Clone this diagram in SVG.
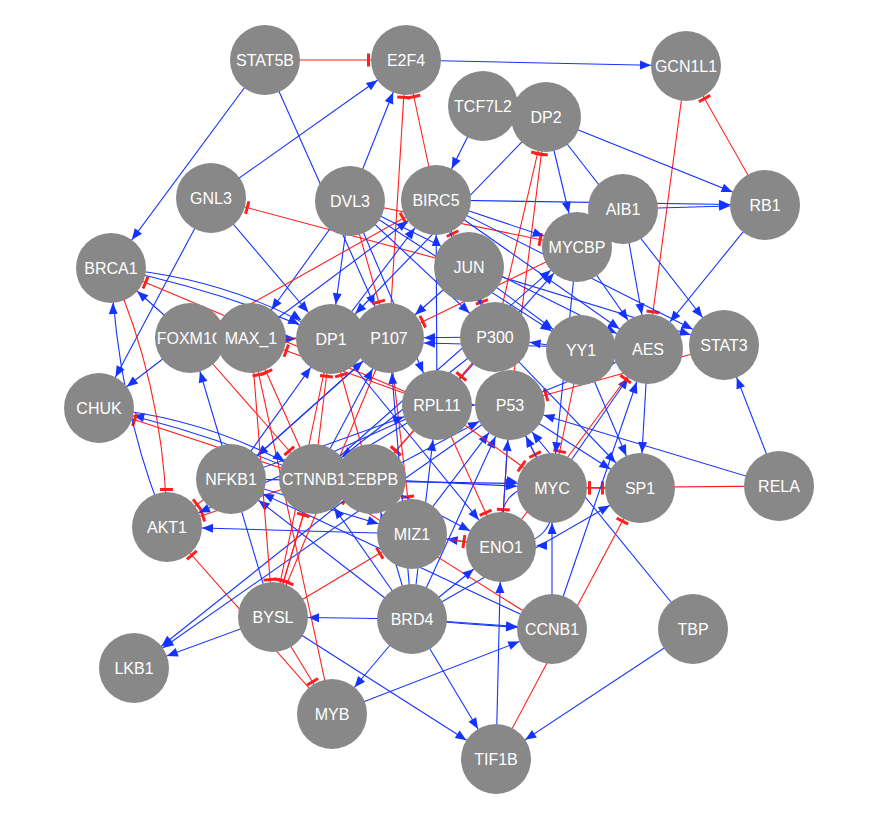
<svg xmlns="http://www.w3.org/2000/svg" width="873" height="813" viewBox="0 0 873 813">
<style>
marker{overflow:visible}
.e line,.e path{fill:none;stroke-width:1.1}
.a{stroke:#1533ff;marker-end:url(#ar)}
.i{stroke:#ff1f1f;marker-end:url(#br)}
.n circle{fill:#888888}
.n text{fill:#ffffff;font-family:"Liberation Sans",Arial,sans-serif;font-size:16px;text-anchor:middle}
</style>
<defs>
<marker id="ar" markerUnits="userSpaceOnUse" orient="auto" markerWidth="10" markerHeight="10" refX="0" refY="0" overflow="visible"><path d="M-35,0 L-46,-4.5 L-46,4.5 Z" fill="#1533ff"/></marker>
<marker id="br" markerUnits="userSpaceOnUse" orient="auto" markerWidth="10" markerHeight="10" refX="0" refY="0" overflow="visible"><path d="M-37.5,-6.5 V6.5" stroke="#ff1f1f" stroke-width="3" fill="none"/></marker>
</defs>
<rect width="873" height="813" fill="#ffffff"/>
<g id="edges" class="e">
<line class="a" x1="265" y1="60" x2="111" y2="268"/>
<line class="a" x1="265" y1="60" x2="389" y2="338"/>
<line class="i" x1="265" y1="60" x2="406" y2="60"/>
<line class="a" x1="406" y1="60" x2="686" y2="66"/>
<line class="a" x1="211" y1="198" x2="406" y2="60"/>
<line class="a" x1="350" y1="201" x2="406" y2="60"/>
<line class="i" x1="389" y1="338" x2="406" y2="60"/>
<line class="i" x1="436" y1="200" x2="406" y2="60"/>
<line class="a" x1="483" y1="106" x2="436" y2="200"/>
<line class="i" x1="469" y1="267" x2="211" y2="198"/>
<line class="a" x1="211" y1="198" x2="331" y2="339"/>
<line class="a" x1="211" y1="198" x2="99" y2="408"/>
<line class="i" x1="765" y1="205" x2="686" y2="66"/>
<line class="i" x1="686" y1="66" x2="648" y2="349"/>
<line class="a" x1="546" y1="117" x2="765" y2="205"/>
<line class="a" x1="623" y1="209" x2="765" y2="205"/>
<line class="a" x1="436" y1="200" x2="765" y2="205"/>
<line class="a" x1="546" y1="117" x2="577" y2="247"/>
<line class="a" x1="546" y1="117" x2="724" y2="345"/>
<line class="i" x1="495" y1="337" x2="546" y2="117"/>
<line class="i" x1="510" y1="405" x2="546" y2="117"/>
<line class="a" x1="546" y1="117" x2="331" y2="339"/>
<line class="i" x1="350" y1="201" x2="577" y2="247"/>
<line class="a" x1="436" y1="200" x2="577" y2="247"/>
<line class="a" x1="765" y1="205" x2="648" y2="349"/>
<line class="a" x1="623" y1="209" x2="648" y2="349"/>
<line class="a" x1="577" y1="247" x2="648" y2="349"/>
<line class="a" x1="469" y1="267" x2="724" y2="345"/>
<line class="a" x1="436" y1="200" x2="724" y2="345"/>
<line class="i" x1="724" y1="345" x2="510" y2="405"/>
<line class="a" x1="779" y1="486" x2="724" y2="345"/>
<line class="i" x1="779" y1="486" x2="552" y2="488"/>
<line class="i" x1="552" y1="488" x2="640" y2="488"/>
<line class="i" x1="640" y1="488" x2="552" y2="488"/>
<line class="a" x1="779" y1="486" x2="510" y2="405"/>
<line class="a" x1="693" y1="629" x2="510" y2="405"/>
<line class="a" x1="693" y1="629" x2="496" y2="759"/>
<line class="i" x1="496" y1="759" x2="640" y2="488"/>
<line class="a" x1="552" y1="629" x2="648" y2="349"/>
<line class="a" x1="648" y1="349" x2="640" y2="488"/>
<line class="a" x1="495" y1="337" x2="640" y2="488"/>
<line class="a" x1="510" y1="405" x2="640" y2="488"/>
<line class="a" x1="412" y1="619" x2="640" y2="488"/>
<line class="a" x1="552" y1="488" x2="648" y2="349"/>
<line class="a" x1="412" y1="619" x2="552" y2="629"/>
<path class="a" d="M412,619 Q482,626 552,629"/>
<line class="a" x1="412" y1="619" x2="496" y2="759"/>
<line class="a" x1="273" y1="617" x2="496" y2="759"/>
<line class="a" x1="332" y1="714" x2="552" y2="629"/>
<line class="a" x1="496" y1="759" x2="501" y2="547"/>
<line class="i" x1="552" y1="629" x2="314" y2="479"/>
<line class="a" x1="552" y1="629" x2="552" y2="488"/>
<line class="a" x1="412" y1="619" x2="501" y2="547"/>
<line class="i" x1="332" y1="714" x2="167" y2="527"/>
<line class="i" x1="273" y1="617" x2="332" y2="714"/>
<line class="i" x1="273" y1="617" x2="412" y2="534"/>
<line class="a" x1="412" y1="619" x2="273" y2="617"/>
<line class="a" x1="273" y1="617" x2="134" y2="668"/>
<line class="a" x1="371" y1="479" x2="134" y2="668"/>
<line class="a" x1="510" y1="405" x2="134" y2="668"/>
<line class="a" x1="273" y1="617" x2="190" y2="338"/>
<line class="i" x1="332" y1="714" x2="251" y2="338"/>
<line class="a" x1="412" y1="619" x2="332" y2="714"/>
<line class="a" x1="412" y1="619" x2="231" y2="479"/>
<path class="a" d="M99,408 Q215,418 314,479"/>
<path class="a" d="M314,479 Q210,432 99,408"/>
<line class="i" x1="314" y1="479" x2="99" y2="408"/>
<path class="a" d="M167,527 Q118,410 111,268"/>
<path class="i" d="M111,268 Q165,390 167,527"/>
<line class="i" x1="190" y1="338" x2="314" y2="479"/>
<line class="i" x1="231" y1="479" x2="167" y2="527"/>
<line class="i" x1="314" y1="479" x2="167" y2="527"/>
<line class="a" x1="437" y1="405" x2="167" y2="527"/>
<line class="a" x1="412" y1="534" x2="167" y2="527"/>
<line class="a" x1="552" y1="629" x2="231" y2="479"/>
<line class="a" x1="389" y1="338" x2="231" y2="479"/>
<line class="a" x1="412" y1="619" x2="314" y2="479"/>
<line class="i" x1="273" y1="617" x2="314" y2="479"/>
<line class="i" x1="251" y1="338" x2="273" y2="617"/>
<line class="i" x1="389" y1="338" x2="273" y2="617"/>
<line class="i" x1="314" y1="479" x2="273" y2="617"/>
<line class="a" x1="350" y1="201" x2="331" y2="339"/>
<line class="a" x1="350" y1="201" x2="251" y2="338"/>
<line class="i" x1="190" y1="338" x2="436" y2="200"/>
<line class="a" x1="469" y1="267" x2="389" y2="338"/>
<line class="i" x1="350" y1="201" x2="389" y2="338"/>
<line class="a" x1="190" y1="338" x2="331" y2="339"/>
<line class="i" x1="437" y1="405" x2="251" y2="338"/>
<line class="i" x1="437" y1="405" x2="111" y2="268"/>
<path class="a" d="M111,268 Q235,278 331,339"/>
<path class="a" d="M111,268 Q230,292 331,339"/>
<line class="a" x1="190" y1="338" x2="111" y2="268"/>
<line class="a" x1="190" y1="338" x2="99" y2="408"/>
<line class="i" x1="469" y1="267" x2="436" y2="200"/>
<line class="a" x1="437" y1="405" x2="436" y2="200"/>
<line class="a" x1="331" y1="339" x2="436" y2="200"/>
<line class="a" x1="251" y1="338" x2="436" y2="200"/>
<line class="i" x1="469" y1="267" x2="495" y2="337"/>
<line class="a" x1="350" y1="201" x2="495" y2="337"/>
<line class="a" x1="436" y1="200" x2="495" y2="337"/>
<line class="a" x1="495" y1="337" x2="389" y2="338"/>
<line class="a" x1="581" y1="350" x2="495" y2="337"/>
<line class="a" x1="648" y1="349" x2="389" y2="342"/>
<line class="a" x1="469" y1="267" x2="581" y2="350"/>
<line class="a" x1="437" y1="405" x2="577" y2="247"/>
<line class="a" x1="314" y1="479" x2="577" y2="247"/>
<line class="a" x1="436" y1="200" x2="648" y2="349"/>
<line class="a" x1="350" y1="201" x2="648" y2="349"/>
<line class="i" x1="495" y1="337" x2="437" y2="405"/>
<line class="i" x1="510" y1="405" x2="495" y2="337"/>
<line class="a" x1="437" y1="405" x2="510" y2="405"/>
<line class="i" x1="510" y1="405" x2="552" y2="488"/>
<line class="i" x1="581" y1="350" x2="552" y2="488"/>
<line class="a" x1="552" y1="488" x2="510" y2="405"/>
<line class="a" x1="577" y1="247" x2="552" y2="488"/>
<line class="a" x1="581" y1="350" x2="640" y2="488"/>
<line class="i" x1="501" y1="547" x2="648" y2="349"/>
<line class="a" x1="510" y1="405" x2="648" y2="349"/>
<line class="a" x1="371" y1="479" x2="552" y2="488"/>
<line class="a" x1="231" y1="479" x2="552" y2="484"/>
<path class="a" d="M552,488 Q562,545 501,547"/>
<path class="a" d="M501,547 Q492,478 552,488"/>
<line class="i" x1="437" y1="405" x2="501" y2="547"/>
<line class="i" x1="510" y1="405" x2="501" y2="547"/>
<line class="a" x1="501" y1="547" x2="412" y2="534"/>
<line class="i" x1="412" y1="534" x2="501" y2="547"/>
<line class="i" x1="389" y1="338" x2="412" y2="534"/>
<line class="i" x1="495" y1="337" x2="371" y2="479"/>
<line class="a" x1="412" y1="534" x2="510" y2="405"/>
<line class="a" x1="412" y1="619" x2="510" y2="405"/>
<line class="a" x1="501" y1="547" x2="510" y2="405"/>
<line class="a" x1="231" y1="479" x2="412" y2="534"/>
<line class="a" x1="371" y1="479" x2="501" y2="547"/>
<line class="a" x1="331" y1="339" x2="501" y2="547"/>
<line class="a" x1="231" y1="479" x2="331" y2="339"/>
<line class="a" x1="231" y1="479" x2="389" y2="338"/>
<line class="i" x1="314" y1="479" x2="331" y2="339"/>
<line class="i" x1="371" y1="479" x2="331" y2="339"/>
<line class="i" x1="437" y1="405" x2="371" y2="479"/>
<line class="i" x1="314" y1="479" x2="251" y2="338"/>
<line class="i" x1="331" y1="339" x2="273" y2="617"/>
<line class="a" x1="350" y1="201" x2="581" y2="350"/>
<line class="a" x1="350" y1="201" x2="437" y2="405"/>
<line class="a" x1="495" y1="337" x2="314" y2="479"/>
<line class="a" x1="437" y1="405" x2="314" y2="479"/>
<line class="a" x1="314" y1="479" x2="389" y2="338"/>
<line class="a" x1="371" y1="479" x2="510" y2="405"/>
<line class="a" x1="231" y1="479" x2="437" y2="405"/>
<line class="a" x1="412" y1="619" x2="437" y2="405"/>
<line class="a" x1="412" y1="619" x2="389" y2="338"/>
<line class="a" x1="412" y1="619" x2="371" y2="479"/>
<line class="i" x1="577" y1="247" x2="389" y2="338"/>
<line class="i" x1="437" y1="405" x2="552" y2="488"/>
<line class="i" x1="389" y1="338" x2="190" y2="338"/>
</g>
<g id="n-STAT5B" class="n"><circle cx="265" cy="60" r="35"/><text x="265" y="65.5">STAT5B</text></g>
<g id="n-E2F4" class="n"><circle cx="406" cy="60" r="35"/><text x="406" y="65.5">E2F4</text></g>
<g id="n-GCN1L1" class="n"><circle cx="686" cy="66" r="35"/><text x="686" y="71.5">GCN1L1</text></g>
<g id="n-TCF7L2" class="n"><circle cx="483" cy="106" r="35"/><text x="483" y="111.5">TCF7L2</text></g>
<g id="n-DP2" class="n"><circle cx="546" cy="117" r="35"/><text x="546" y="122.5">DP2</text></g>
<g id="n-GNL3" class="n"><circle cx="211" cy="198" r="35"/><text x="211" y="203.5">GNL3</text></g>
<g id="n-DVL3" class="n"><circle cx="350" cy="201" r="35"/><text x="350" y="206.5">DVL3</text></g>
<g id="n-BIRC5" class="n"><circle cx="436" cy="200" r="35"/><text x="436" y="205.5">BIRC5</text></g>
<g id="n-AIB1" class="n"><circle cx="623" cy="209" r="35"/><text x="623" y="214.5">AIB1</text></g>
<g id="n-RB1" class="n"><circle cx="765" cy="205" r="35"/><text x="765" y="210.5">RB1</text></g>
<g id="n-MYCBP" class="n"><circle cx="577" cy="247" r="35"/><text x="577" y="252.5">MYCBP</text></g>
<g id="n-BRCA1" class="n"><circle cx="111" cy="268" r="35"/><text x="111" y="273.5">BRCA1</text></g>
<g id="n-JUN" class="n"><circle cx="469" cy="267" r="35"/><text x="469" y="272.5">JUN</text></g>
<g id="n-FOXM1C" class="n"><circle cx="190" cy="338" r="35"/><text x="190" y="343.5">FOXM1C</text></g>
<g id="n-MAX_1" class="n"><circle cx="251" cy="338" r="35"/><text x="251" y="343.5">MAX_1</text></g>
<g id="n-DP1" class="n"><circle cx="331" cy="339" r="35"/><text x="331" y="344.5">DP1</text></g>
<g id="n-P107" class="n"><circle cx="389" cy="338" r="35"/><text x="389" y="343.5">P107</text></g>
<g id="n-P300" class="n"><circle cx="495" cy="337" r="35"/><text x="495" y="342.5">P300</text></g>
<g id="n-YY1" class="n"><circle cx="581" cy="350" r="35"/><text x="581" y="355.5">YY1</text></g>
<g id="n-AES" class="n"><circle cx="648" cy="349" r="35"/><text x="648" y="354.5">AES</text></g>
<g id="n-STAT3" class="n"><circle cx="724" cy="345" r="35"/><text x="724" y="350.5">STAT3</text></g>
<g id="n-CHUK" class="n"><circle cx="99" cy="408" r="35"/><text x="99" y="413.5">CHUK</text></g>
<g id="n-RPL11" class="n"><circle cx="437" cy="405" r="35"/><text x="437" y="410.5">RPL11</text></g>
<g id="n-P53" class="n"><circle cx="510" cy="405" r="35"/><text x="510" y="410.5">P53</text></g>
<g id="n-NFKB1" class="n"><circle cx="231" cy="479" r="35"/><text x="231" y="484.5">NFKB1</text></g>
<g id="n-CEBPB" class="n"><circle cx="371" cy="479" r="35"/><text x="371" y="484.5">CEBPB</text></g>
<g id="n-CTNNB1" class="n"><circle cx="314" cy="479" r="35"/><text x="314" y="484.5">CTNNB1</text></g>
<g id="n-MYC" class="n"><circle cx="552" cy="488" r="35"/><text x="552" y="493.5">MYC</text></g>
<g id="n-SP1" class="n"><circle cx="640" cy="488" r="35"/><text x="640" y="493.5">SP1</text></g>
<g id="n-RELA" class="n"><circle cx="779" cy="486" r="35"/><text x="779" y="491.5">RELA</text></g>
<g id="n-AKT1" class="n"><circle cx="167" cy="527" r="35"/><text x="167" y="532.5">AKT1</text></g>
<g id="n-MIZ1" class="n"><circle cx="412" cy="534" r="35"/><text x="412" y="539.5">MIZ1</text></g>
<g id="n-ENO1" class="n"><circle cx="501" cy="547" r="35"/><text x="501" y="552.5">ENO1</text></g>
<g id="n-BYSL" class="n"><circle cx="273" cy="617" r="35"/><text x="273" y="622.5">BYSL</text></g>
<g id="n-BRD4" class="n"><circle cx="412" cy="619" r="35"/><text x="412" y="624.5">BRD4</text></g>
<g id="n-CCNB1" class="n"><circle cx="552" cy="629" r="35"/><text x="552" y="634.5">CCNB1</text></g>
<g id="n-TBP" class="n"><circle cx="693" cy="629" r="35"/><text x="693" y="634.5">TBP</text></g>
<g id="n-LKB1" class="n"><circle cx="134" cy="668" r="35"/><text x="134" y="673.5">LKB1</text></g>
<g id="n-MYB" class="n"><circle cx="332" cy="714" r="35"/><text x="332" y="719.5">MYB</text></g>
<g id="n-TIF1B" class="n"><circle cx="496" cy="759" r="35"/><text x="496" y="764.5">TIF1B</text></g>
</svg>
